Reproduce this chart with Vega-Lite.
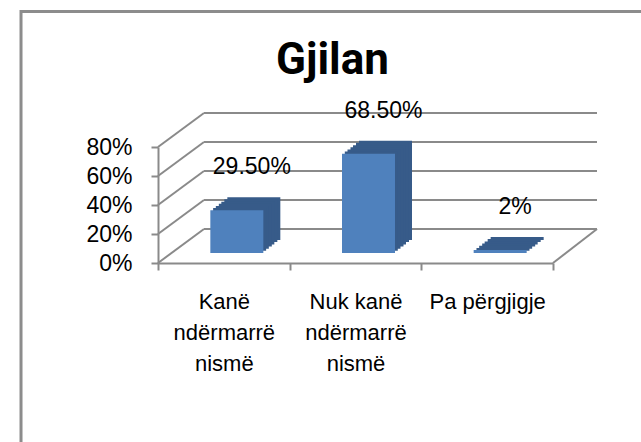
{
  "$schema": "https://vega.github.io/schema/vega-lite/v6.json",
  "width": 395,
  "height": 116,
  "autosize": "none",
  "padding": {"left": 158, "top": 147, "right": 88, "bottom": 179},
  "background": "white",
  "config": {"view": {"stroke": null}},
  "title": {
    "text": "Gjilan",
    "font": "Roboto",
    "fontSize": 44,
    "fontWeight": "bold",
    "color": "#000000",
    "anchor": "middle",
    "baseline": "alphabetic",
    "dx": -23,
    "dy": 108,
    "offset": 0
  },
  "layer": [
    {
      "layer": [
        {
          "data": {"values": [{"part": "chart area"}]},
          "mark": {"type": "rect", "filled": false, "color": "#8c8c8c", "strokeWidth": 3},
          "encoding": {
            "x": {"datum": -0.3468, "type": "quantitative", "scale": {"domain": [0, 1]}, "axis": null},
            "x2": {"datum": 2},
            "y": {"datum": 1.7345, "type": "quantitative", "scale": {"domain": [0, 0.8]}, "axis": null},
            "y2": {"datum": -2}
          }
        },
        {
          "data": {"values": [{"v": 0}, {"v": 0.2}, {"v": 0.4}, {"v": 0.6}, {"v": 0.8}]},
          "mark": {"type": "rule", "color": "#8a8a8a", "strokeWidth": 2, "xOffset": 46, "x2Offset": 44, "yOffset": -34},
          "encoding": {
            "x": {"datum": 0, "type": "quantitative", "scale": {"domain": [0, 1]}, "axis": null},
            "x2": {"datum": 1},
            "y": {"field": "v", "type": "quantitative", "scale": {"domain": [0, 0.8]}, "axis": null}
          }
        },
        {
          "data": {"values": [{"v": 0}, {"v": 0.2}, {"v": 0.4}, {"v": 0.6}, {"v": 0.8}]},
          "mark": {"type": "rule", "color": "#8a8a8a", "strokeWidth": 2, "x2Offset": 46, "y2Offset": -34},
          "encoding": {
            "x": {"datum": 0, "type": "quantitative", "scale": {"domain": [0, 1]}, "axis": null},
            "x2": {"datum": 0},
            "y": {"field": "v", "type": "quantitative", "scale": {"domain": [0, 0.8]}, "axis": null},
            "y2": {"field": "v"}
          }
        },
        {
          "data": {"values": [{"v": 0}]},
          "mark": {"type": "rule", "color": "#8a8a8a", "strokeWidth": 2, "x2Offset": 44, "y2Offset": -34},
          "encoding": {
            "x": {"datum": 1, "type": "quantitative", "scale": {"domain": [0, 1]}, "axis": null},
            "x2": {"datum": 1},
            "y": {"field": "v", "type": "quantitative", "scale": {"domain": [0, 0.8]}, "axis": null},
            "y2": {"field": "v"}
          }
        }
      ]
    },
    {
      "data": {
        "values": [
          {"cat": "Kanë ndërmarrë nismë", "pct": 0.295, "label": "29.50%"},
          {"cat": "Nuk kanë ndërmarrë nismë", "pct": 0.685, "label": "68.50%"},
          {"cat": "Pa përgjigje", "pct": 0.02, "label": "2%"}
        ]
      },
      "encoding": {
        "x": {
          "field": "cat",
          "type": "nominal",
          "sort": null,
          "scale": {"paddingInner": 0, "paddingOuter": 0},
          "axis": {
            "orient": "bottom",
            "title": null,
            "domainColor": "#8a8a8a",
            "domainWidth": 2,
            "tickBand": "extent",
            "tickColor": "#8a8a8a",
            "tickWidth": 2,
            "tickSize": 7,
            "labelAngle": 0,
            "labelFont": "Liberation Sans",
            "labelFontSize": 22,
            "labelColor": "#000000",
            "labelPadding": 21,
            "labelBaseline": "top",
            "labelLineHeight": 31,
            "labelOverlap": false,
            "labelLimit": 0,
            "labelBound": false,
            "labelExpr": "datum.value == 'Kanë ndërmarrë nismë' ? ['Kanë', 'ndërmarrë', 'nismë'] : datum.value == 'Nuk kanë ndërmarrë nismë' ? ['Nuk kanë', 'ndërmarrë', 'nismë'] : datum.label"
          }
        },
        "y": {
          "field": "pct",
          "type": "quantitative",
          "scale": {"domain": [0, 0.8]},
          "axis": {
            "orient": "left",
            "title": null,
            "values": [0, 0.2, 0.4, 0.6, 0.8],
            "format": ".0%",
            "grid": false,
            "domainColor": "#8a8a8a",
            "domainWidth": 2,
            "tickColor": "#8a8a8a",
            "tickWidth": 2,
            "tickSize": 7,
            "labelFont": "Liberation Sans",
            "labelFontSize": 23,
            "labelColor": "#000000",
            "labelPadding": 19
          }
        }
      },
      "layer": [
        {"mark": {"type": "bar", "width": {"band": 0.4025}, "color": "#375B89", "xOffset": 30, "yOffset": -23, "y2Offset": -23}},
        {"mark": {"type": "bar", "width": {"band": 0.4025}, "color": "#375B89", "xOffset": 27, "yOffset": -21, "y2Offset": -21}},
        {"mark": {"type": "bar", "width": {"band": 0.4025}, "color": "#375B89", "xOffset": 24, "yOffset": -18.5, "y2Offset": -18.5}},
        {"mark": {"type": "bar", "width": {"band": 0.4025}, "color": "#375B89", "xOffset": 21.5, "yOffset": -16.5, "y2Offset": -16.5}},
        {"mark": {"type": "bar", "width": {"band": 0.4025}, "color": "#375B89", "xOffset": 18.5, "yOffset": -14.3, "y2Offset": -14.3}},
        {"mark": {"type": "bar", "width": {"band": 0.4025}, "color": "#375B89", "xOffset": 15.8, "yOffset": -12.2, "y2Offset": -12.2}},
        {"mark": {"type": "bar", "width": {"band": 0.4025}, "color": "#4F81BD", "xOffset": 13, "yOffset": -10, "y2Offset": -10}},
        {
          "mark": {"type": "text", "font": "Liberation Sans", "fontSize": 23, "color": "#000000", "baseline": "middle", "align": "center", "dx": 28, "dy": -53},
          "encoding": {"text": {"field": "label"}}
        }
      ]
    }
  ],
  "resolve": {"scale": {"x": "independent"}, "axis": {"x": "independent", "y": "independent"}}
}
